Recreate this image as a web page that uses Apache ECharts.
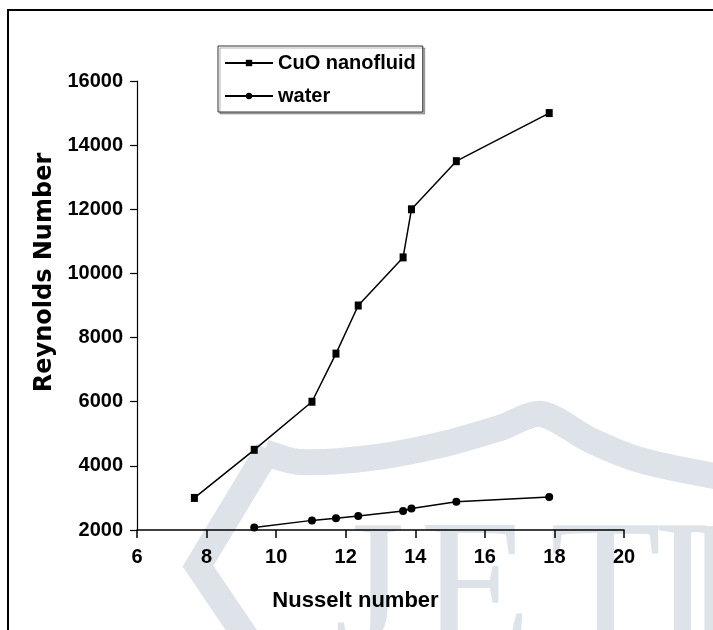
<!DOCTYPE html>
<html>
<head>
<meta charset="utf-8">
<script src="https://cdn.jsdelivr.net/npm/echarts@6/dist/echarts.min.js"></script>
<style>html,body{margin:0;padding:0;background:#fff;}#c{width:713px;height:630px;}</style>
</head>
<body>
<div id="c"></div>
<script>
// Data
const seriesNames = ['CuO nanofluid', 'water'];
const cuoX = [7.65, 9.37, 11.03, 11.72, 12.36, 13.65, 13.89, 15.18, 17.85];
const cuoY = [3000, 4500, 6000, 7500, 9000, 10500, 12000, 13500, 15000];
const waterX = [9.37, 11.03, 11.72, 12.36, 13.65, 13.89, 15.18, 17.85];
const waterY = [2080, 2300, 2370, 2440, 2590, 2670, 2880, 3030];
const xTicks = [6, 8, 10, 12, 14, 16, 18, 20];
const yTicks = [2000, 4000, 6000, 8000, 10000, 12000, 14000, 16000];
const xTitle = 'Nusselt number';
const yTitle = 'Reynolds Number';
const watermarkLetters = ['J', 'E', 'T', 'I', 'R'];

const sans = "'Liberation Sans', Arial, sans-serif";
const wm = '#dde3e8';
const letterLeft = [334, 420, 550, 652, 684];

const letterGraphics = watermarkLetters.map((ch, i) => ({
  type: 'text', z: -10, silent: true, x: letterLeft[i], y: 506,
  style: { text: ch, font: "182px 'Liberation Serif', 'DejaVu Serif', serif", fill: wm, verticalAlign: 'top', align: 'left' }
}));

const chart = echarts.init(document.getElementById('c'), null, {renderer: 'canvas'});
const option = {
  backgroundColor: '#fff',
  animation: false,
  graphic: [
    { type: 'polyline', z: -10, silent: true,
      shape: { points: [[248, 640], [198, 566], [268, 450]] },
      style: { stroke: wm, lineWidth: 26, fill: null, lineJoin: 'miter' } },
    { type: 'polyline', z: -10, silent: true,
      shape: { points: [[264, 452], [300, 462], [370, 458], [440, 445], [500, 428], [541, 414], [590, 440], [640, 460], [720, 477]], smooth: 0.3 },
      style: { stroke: wm, lineWidth: 26, fill: null } }
  ].concat(letterGraphics).concat([
    { type: 'polyline', z: 10, silent: true,
      shape: { points: [[8, 640], [8, 10], [720, 10]] },
      style: { stroke: '#000', lineWidth: 2, fill: null } }
  ]),
  legend: {
    orient: 'vertical',
    left: 218, top: 46,
    padding: [5, 7, 4, 6],
    itemWidth: 48, itemHeight: 8, itemGap: 9,
    borderColor: '#333', borderWidth: 1, backgroundColor: '#fff',
    shadowColor: 'rgba(0,0,0,0.3)', shadowOffsetX: 2, shadowOffsetY: 2, shadowBlur: 0,
    textStyle: { fontFamily: sans, fontWeight: 'bold', fontSize: 20, lineHeight: 24, color: '#000' },
    data: seriesNames
  },
  grid: { left: 137, right: 89, top: 81, bottom: 100, containLabel: false },
  xAxis: {
    type: 'value', min: 6, max: 20, interval: 2,
    name: xTitle, nameLocation: 'middle', nameGap: 60,
    nameTextStyle: { fontFamily: sans, fontWeight: 'bold', fontSize: 22, color: '#000', padding: [0, 50, 0, 0] },
    axisLine: { lineStyle: { color: '#000', width: 1.5 } },
    axisTick: { inside: false, length: 8, lineStyle: { color: '#000', width: 1.5 } },
    axisLabel: { margin: 17, fontFamily: sans, fontWeight: 'bold', fontSize: 20, color: '#000',
      formatter: v => xTicks.includes(v) ? String(v) : '' },
    splitLine: { show: false }
  },
  yAxis: {
    type: 'value', min: 2000, max: 16000, interval: 2000,
    name: yTitle, nameLocation: 'middle', nameGap: 76, nameRotate: 90,
    nameTextStyle: { fontFamily: "'DejaVu Sans', sans-serif", fontWeight: 'bold', fontSize: 24, color: '#000', padding: [0, 0, 0, 66] },
    axisLine: { show: true, lineStyle: { color: '#000', width: 1.2 } },
    axisTick: { show: true, inside: false, length: 7, lineStyle: { color: '#000', width: 1.2 } },
    axisLabel: { margin: 14, fontFamily: sans, fontWeight: 'bold', fontSize: 20, color: '#000',
      formatter: v => yTicks.includes(v) ? String(v) : '' },
    splitLine: { show: false }
  },
  series: [
    { name: seriesNames[0], type: 'line', data: cuoX.map((x, i) => [x, cuoY[i]]),
      symbol: 'rect', symbolSize: [7, 8], showSymbol: true,
      lineStyle: { color: '#000', width: 1.5 }, itemStyle: { color: '#000', borderWidth: 0 }, z: 3 },
    { name: seriesNames[1], type: 'line', data: waterX.map((x, i) => [x, waterY[i]]),
      symbol: 'circle', symbolSize: 8, showSymbol: true,
      lineStyle: { color: '#000', width: 1.5 }, itemStyle: { color: '#000', borderWidth: 0 }, z: 3 }
  ]
};
chart.setOption(option);
</script>
</body>
</html>
